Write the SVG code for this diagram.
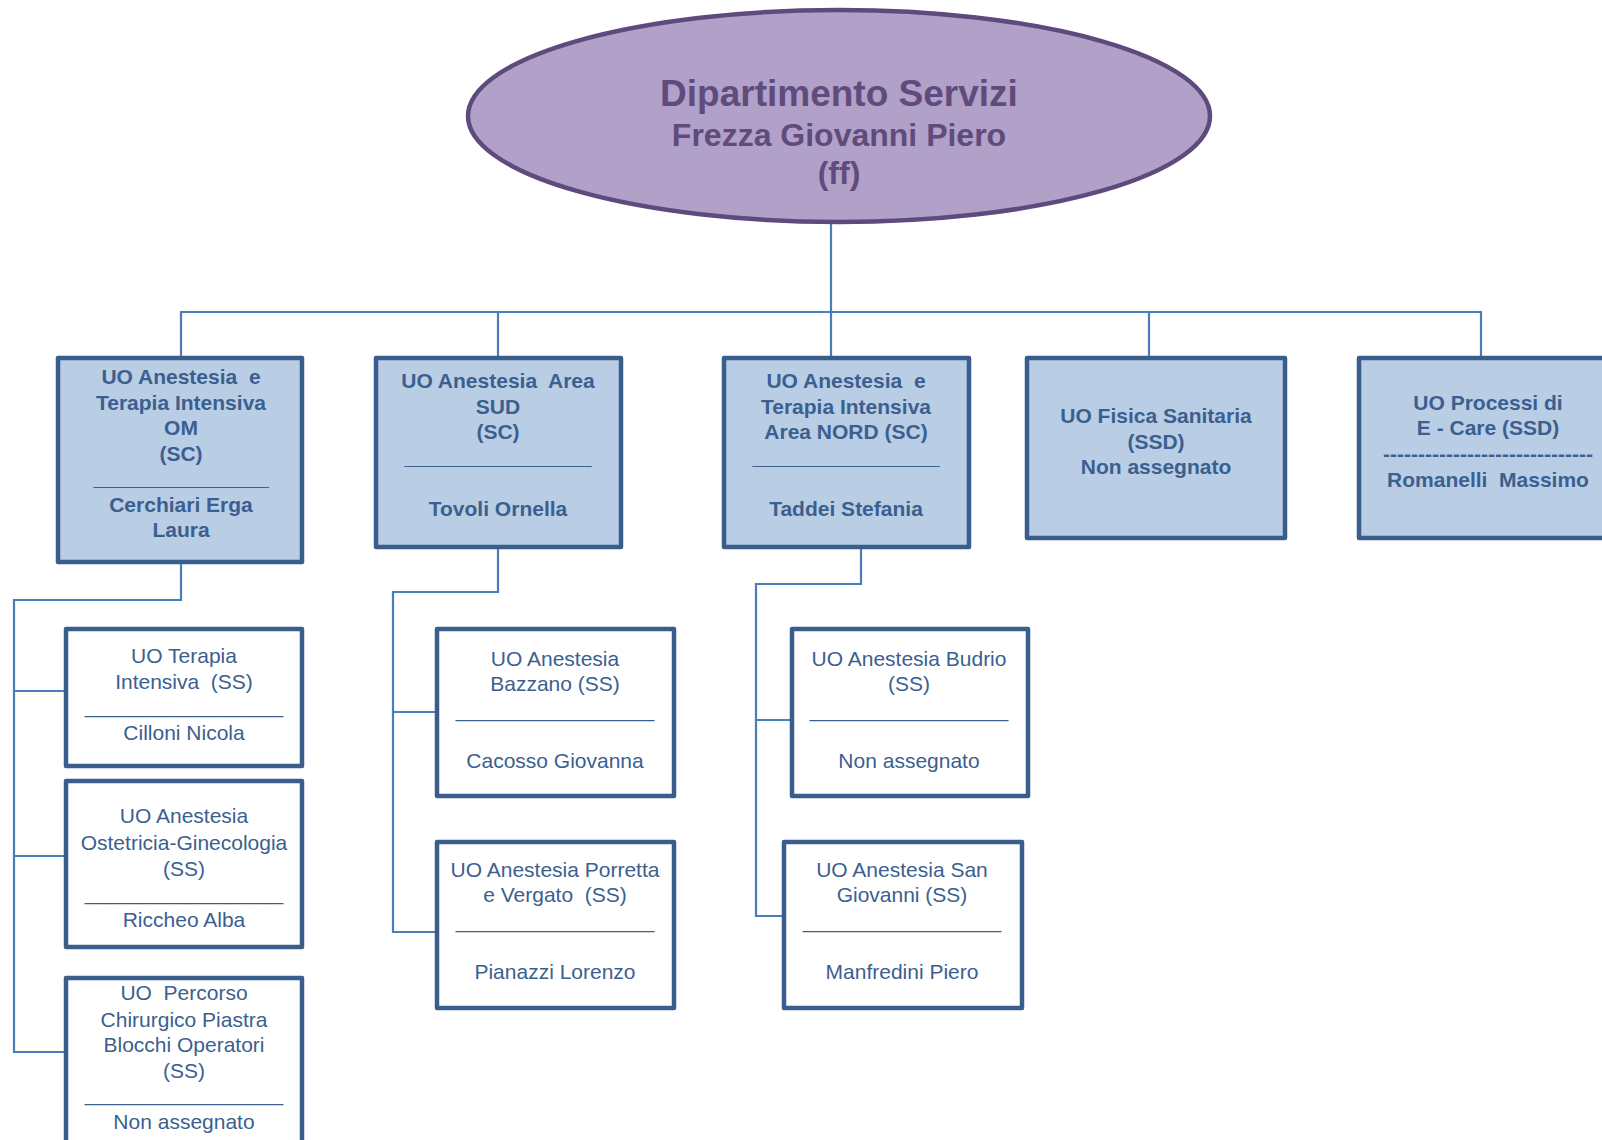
<svg xmlns="http://www.w3.org/2000/svg" width="1602" height="1140" viewBox="0 0 1602 1140">
<style>
.conn{fill:none;stroke:#4a7ebb;stroke-width:2.2}
.top{fill:#b9cde5;stroke:#3a5e8c;stroke-width:4.5;stroke-linejoin:round}
.sub{fill:#ffffff;stroke:#3a5e8c;stroke-width:4.5;stroke-linejoin:round}
.tb{font-family:"Liberation Sans",Arial,sans-serif;font-weight:bold;font-size:21px;fill:#3b5f8f;text-anchor:middle}
.tr{font-family:"Liberation Sans",Arial,sans-serif;font-size:21px;fill:#3b5f8f;text-anchor:middle}
.title{font-family:"Liberation Sans",Arial,sans-serif;font-weight:bold;fill:#5f4b7c;text-anchor:middle}
</style>
<rect width="1602" height="1140" fill="#ffffff"/>
<g id="connectors">
<path class="conn" d="M831 222 V312"/>
<path class="conn" d="M181 358 V312 H1481 V358"/>
<path class="conn" d="M498 312 V358"/>
<path class="conn" d="M831 312 V358"/>
<path class="conn" d="M1149 312 V358"/>
<path class="conn" d="M181 562 V600 H14 V1052 H66"/>
<path class="conn" d="M14 691 H66"/>
<path class="conn" d="M14 856 H66"/>
<path class="conn" d="M498 547 V592 H393 V932 H437"/>
<path class="conn" d="M393 712 H437"/>
<path class="conn" d="M861 547 V584 H756 V916 H784"/>
<path class="conn" d="M756 720 H794"/>
</g>
<g id="dept">
<ellipse cx="839" cy="116" rx="371" ry="106" fill="#b1a0c7" stroke="#5e4a7c" stroke-width="4.5"/>
<text class="title" x="839" y="106" font-size="37">Dipartimento Servizi</text>
<text class="title" x="839" y="146" font-size="32">Frezza Giovanni Piero</text>
<text class="title" x="839" y="184" font-size="32">(ff)</text>
</g>
<g id="uo-om">
<rect class="top" x="58" y="358" width="244" height="204"/>
<text class="tb" x="181" y="384" xml:space="preserve">UO Anestesia  e</text>
<text class="tb" x="181" y="410">Terapia Intensiva</text>
<text class="tb" x="181" y="435">OM</text>
<text class="tb" x="181" y="461">(SC)</text>
<text class="tb" x="181" y="485">_______________</text>
<text class="tb" x="181" y="512">Cerchiari Erga</text>
<text class="tb" x="181" y="537">Laura</text>
</g>
<g id="uo-sud">
<rect class="top" x="376" y="358" width="245" height="189"/>
<text class="tb" x="498" y="388" xml:space="preserve">UO Anestesia  Area</text>
<text class="tb" x="498" y="414">SUD</text>
<text class="tb" x="498" y="439">(SC)</text>
<text class="tb" x="498" y="464">________________</text>
<text class="tb" x="498" y="516">Tovoli Ornella</text>
</g>
<g id="uo-nord">
<rect class="top" x="724" y="358" width="245" height="189"/>
<text class="tb" x="846" y="388" xml:space="preserve">UO Anestesia  e</text>
<text class="tb" x="846" y="414">Terapia Intensiva</text>
<text class="tb" x="846" y="439">Area NORD (SC)</text>
<text class="tb" x="846" y="464">________________</text>
<text class="tb" x="846" y="516">Taddei Stefania</text>
</g>
<g id="uo-fisica">
<rect class="top" x="1027" y="358" width="258" height="180"/>
<text class="tb" x="1156" y="423">UO Fisica Sanitaria</text>
<text class="tb" x="1156" y="449">(SSD)</text>
<text class="tb" x="1156" y="474">Non assegnato</text>
</g>
<g id="uo-ecare">
<rect class="top" x="1359" y="358" width="258" height="180"/>
<text class="tb" x="1488" y="410">UO Processi di</text>
<text class="tb" x="1488" y="435">E - Care (SSD)</text>
<text class="tb" x="1488" y="461">------------------------------</text>
<text class="tb" x="1488" y="487" xml:space="preserve">Romanelli  Massimo</text>
</g>
<g id="ss-ti">
<rect class="sub" x="66" y="629" width="236" height="137"/>
<text class="tr" x="184" y="663">UO Terapia</text>
<text class="tr" x="184" y="689" xml:space="preserve">Intensiva  (SS)</text>
<text class="tr" x="184" y="713">_________________</text>
<text class="tr" x="184" y="740">Cilloni Nicola</text>
</g>
<g id="ss-ostetricia">
<rect class="sub" x="66" y="781" width="236" height="166"/>
<text class="tr" x="184" y="823">UO Anestesia</text>
<text class="tr" x="184" y="850">Ostetricia-Ginecologia</text>
<text class="tr" x="184" y="876">(SS)</text>
<text class="tr" x="184" y="900">_________________</text>
<text class="tr" x="184" y="927">Riccheo Alba</text>
</g>
<g id="ss-percorso">
<rect class="sub" x="66" y="978" width="236" height="175"/>
<text class="tr" x="184" y="1000" xml:space="preserve">UO  Percorso</text>
<text class="tr" x="184" y="1027">Chirurgico Piastra</text>
<text class="tr" x="184" y="1052">Blocchi Operatori</text>
<text class="tr" x="184" y="1078">(SS)</text>
<text class="tr" x="184" y="1101">_________________</text>
<text class="tr" x="184" y="1129">Non assegnato</text>
</g>
<g id="ss-bazzano">
<rect class="sub" x="437" y="629" width="237" height="167"/>
<text class="tr" x="555" y="666">UO Anestesia</text>
<text class="tr" x="555" y="691">Bazzano (SS)</text>
<text class="tr" x="555" y="717">_________________</text>
<text class="tr" x="555" y="768">Cacosso Giovanna</text>
</g>
<g id="ss-porretta">
<rect class="sub" x="437" y="842" width="237" height="166"/>
<text class="tr" x="555" y="877">UO Anestesia Porretta</text>
<text class="tr" x="555" y="902" xml:space="preserve">e Vergato  (SS)</text>
<text class="tr" x="555" y="928">_________________</text>
<text class="tr" x="555" y="979">Pianazzi Lorenzo</text>
</g>
<g id="ss-budrio">
<rect class="sub" x="792" y="629" width="236" height="167"/>
<text class="tr" x="909" y="666">UO Anestesia Budrio</text>
<text class="tr" x="909" y="691">(SS)</text>
<text class="tr" x="909" y="717">_________________</text>
<text class="tr" x="909" y="768">Non assegnato</text>
</g>
<g id="ss-sangiovanni">
<rect class="sub" x="784" y="842" width="238" height="166"/>
<text class="tr" x="902" y="877">UO Anestesia San</text>
<text class="tr" x="902" y="902">Giovanni (SS)</text>
<text class="tr" x="902" y="928">_________________</text>
<text class="tr" x="902" y="979">Manfredini Piero</text>
</g>
</svg>
